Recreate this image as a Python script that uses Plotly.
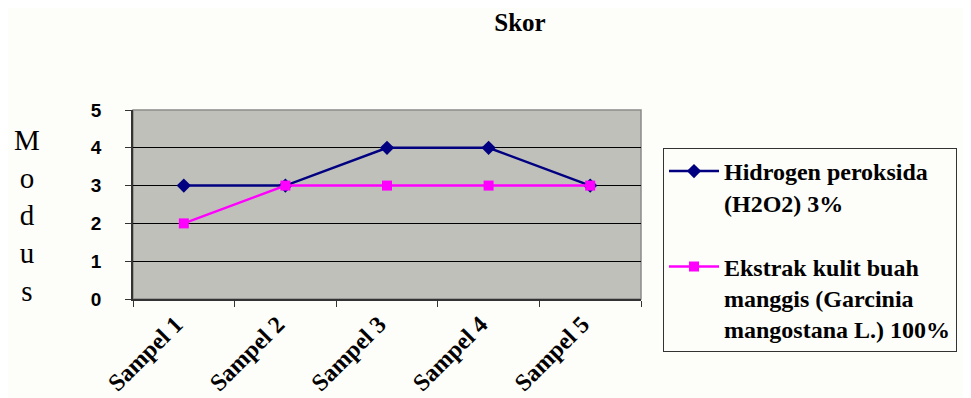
import plotly.graph_objects as go

categories = ["Sampel 1", "Sampel 2", "Sampel 3", "Sampel 4", "Sampel 5"]
h2o2_values = [3, 3, 4, 4, 3]
ekstrak_values = [2, 3, 3, 3, 3]
series_names = ["Hidrogen peroksida<br>(H2O2) 3%",
                "Ekstrak kulit buah<br>manggis (Garcinia<br>mangostana L.) 100%"]
y_ticks = [0, 1, 2, 3, 4, 5]

OFF = 8  # page body margin
W, H = 971 - OFF, 398 - OFF
L = 133 - OFF
T = 110 - OFF
pw, ph = 508, 189
R = W - L - pw
B = H - T - ph

def px(sx):
    return (sx - 133) / pw

def py(sy):
    return (299 - sy) / ph

fig = go.Figure()
fig.add_trace(go.Scatter(
    x=categories, y=h2o2_values, name=series_names[0], mode="lines+markers",
    line=dict(color="#000080", width=2.5),
    marker=dict(symbol="diamond", size=11, color="#000080"),
    legendgroup="a"))
fig.add_trace(go.Scatter(
    x=categories, y=ekstrak_values, name=series_names[1], mode="lines+markers",
    line=dict(color="#FF00FF", width=2.5),
    marker=dict(symbol="square", size=10, color="#FF00FF"),
    legendgroup="b"))

fig.add_shape(type="rect", xref="paper", yref="paper", x0=0, x1=1, y0=0, y1=1,
              line=dict(color="#8a8a8a", width=1.5), layer="below")

fig.add_annotation(text="M<br>o<br>d<br>u<br>s", xref="paper", yref="paper",
                   x=px(27), y=py(215), xanchor="center", yanchor="middle",
                   showarrow=False,
                   font=dict(family="Liberation Serif", size=29, color="black"))

fig.update_layout(
    width=W, height=H,
    margin=dict(l=L, r=R, t=T, b=B, autoexpand=False),
    paper_bgcolor="#fdfdf9",
    plot_bgcolor="#c0c0bb",
    title=dict(text="Skor", x=(520 - OFF) / W, xanchor="center",
               y=1 - (22 - OFF) / H, yanchor="middle",
               font=dict(family="Liberation Serif", size=25, color="black", weight="bold")),
    showlegend=True,
    legend=dict(x=px(663), y=py(148), xanchor="left", yanchor="top",
                bordercolor="#333333", borderwidth=1, bgcolor="#fdfdf9",
                font=dict(family="Liberation Serif", size=24, color="black", weight="bold"),
                valign="top", tracegroupgap=30, traceorder="grouped",
                itemwidth=50, maxheight=600),
    xaxis=dict(type="category", range=[-0.5, 4.5], tickson="boundaries",
               ticks="outside", ticklen=6, tickcolor="#333333",
               showline=True, linecolor="#333333", linewidth=1.5,
               showgrid=False, tickangle=-45, automargin=False,
               ticklabelshift=-8,
               tickfont=dict(family="Liberation Serif", size=24, color="black", weight="bold")),
    yaxis=dict(range=[0, 5], tickvals=y_ticks, ticks="outside", ticklen=6,
               tickcolor="#333333", showline=True, linecolor="#333333", linewidth=1.5,
               showgrid=True, gridcolor="#000000", gridwidth=1, zeroline=False,
               ticklabelstandoff=20, automargin=False,
               tickfont=dict(family="Liberation Sans", size=19, color="black", weight="bold")),
)

fig.write_html("out.html")
